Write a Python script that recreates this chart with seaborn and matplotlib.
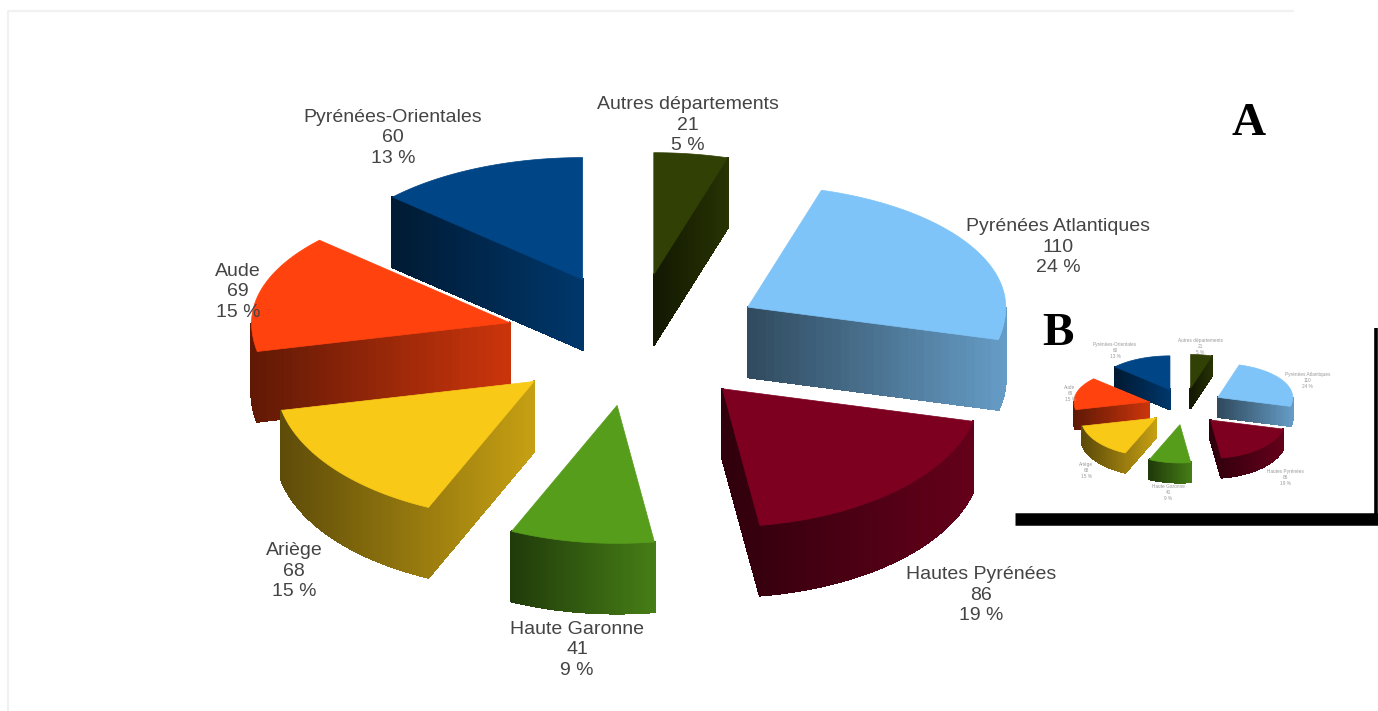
import numpy as np
import seaborn as sns
import matplotlib
matplotlib.use("Agg")
import matplotlib.pyplot as plt
from matplotlib.collections import PolyCollection
from matplotlib.colors import to_rgb

# Donnees du graphique
departements = ["Autres départements", "Pyrénées Atlantiques", "Hautes Pyrénées", "Haute Garonne",
                "Ariège", "Aude", "Pyrénées-Orientales"]
effectifs = [21, 110, 86, 41, 68, 69, 60]
pourcentages = [5, 24, 19, 9, 15, 15, 13]
couleurs = ["#314004", "#7fc4f8", "#7e0021", "#579d1c", "#f9c918", "#ff420e", "#004586"]

# Position du centre des etiquettes (pixels de l'image)
pos_etiquettes = [(688, 125), (1058, 247), (981, 595), (577, 650), (294, 571), (238, 292), (393, 138)]

sns.set_theme(style="white")
plt.rcParams["font.family"] = ["Liberation Sans", "DejaVu Sans"]
palette = sns.color_palette(couleurs)

# Geometrie de la fausse 3D
CX, CY = 635, 340
RX, RY_HAUT, RY_BAS = 258, 122, 138
ECLATE_X, ECLATE_Y = 130, 66
EPAISSEUR = 70


def ellipse(t):
    ry = np.where(np.cos(t) >= 0, RY_HAUT, RY_BAS)
    return RX * np.sin(t), -ry * np.cos(t)


def dessine_part(ax, t0, t1, couleur):
    milieu = (t0 + t1) / 2
    ax0 = CX + ECLATE_X * np.sin(milieu)
    ay0 = CY - ECLATE_Y * np.cos(milieu)
    t = np.linspace(t0, t1, 80)
    ex, ey = ellipse(t)
    px = np.concatenate([[ax0], ax0 + ex])
    py = np.concatenate([[ay0], ay0 + ey])
    xmin, xmax = px.min(), px.max()

    # contour ferme : les cotes qui vont vers la gauche sont visibles
    bx = np.concatenate([px, [ax0]])
    by = np.concatenate([py, [ay0]])
    quads, teintes = [], []
    for i in range(len(bx) - 1):
        if bx[i + 1] >= bx[i]:
            continue
        n = 30 if i in (0, len(bx) - 2) else 1
        xs = np.linspace(bx[i], bx[i + 1], n + 1)
        ys = np.linspace(by[i], by[i + 1], n + 1)
        for j in range(n):
            quads.append([(xs[j], ys[j]), (xs[j + 1], ys[j + 1]),
                          (xs[j + 1], ys[j + 1] + EPAISSEUR), (xs[j], ys[j] + EPAISSEUR)])
            f = ((xs[j] + xs[j + 1]) / 2 - xmin) / (xmax - xmin)
            teintes.append(np.array(to_rgb(couleur)) * (0.38 + 0.42 * f))
    ax.add_collection(PolyCollection(quads, facecolors=teintes, edgecolors=teintes, linewidths=1.0,
                                     antialiaseds=False))
    ax.fill(px, py, color=couleur, lw=0.5)


def dessine_camembert(ax, taille, gris):
    bornes = np.concatenate([[0], np.cumsum(effectifs)]) / sum(effectifs) * 2 * np.pi
    # du fond vers l'avant
    ordre = np.argsort(-np.cos((bornes[:-1] + bornes[1:]) / 2))
    for i in ordre:
        dessine_part(ax, bornes[i], bornes[i + 1], palette[i])
    for nom, n, pc, (x, y) in zip(departements, effectifs, pourcentages, pos_etiquettes):
        ax.text(x, y, f"{nom}\n{n}\n{pc} %", ha="center", va="center", fontsize=taille,
                color=gris, linespacing=1.27)


fig = plt.figure(figsize=(13.78, 7.11), dpi=100, facecolor="white")
ax = fig.add_axes([0, 0, 1, 1])
ax.set_xlim(0, 1378)
ax.set_ylim(711, 0)
ax.axis("off")

# cadre tres clair de la capture
ax.plot([8, 8, 1293], [711, 11, 11], color="#f1f1f1", lw=1.6)

dessine_camembert(ax, 14.0, "#444444")

# petit camembert (B)
x0, x1, y0, y1 = 1030, 1320, 326, 512
ins = fig.add_axes([x0 / 1378, 1 - y1 / 711, (x1 - x0) / 1378, (y1 - y0) / 711])
ins.set_xlim(100, 1100)
ins.set_ylim(720, 50)
ins.axis("off")
dessine_camembert(ins, 3.4, "#9a9a9a")

# lettres et trait noir
ax.text(1249, 124, "A", family="Liberation Serif", fontweight="bold", fontsize=34, color="black",
        ha="center", va="center")
ax.text(1058, 334, "B", family="Liberation Serif", fontweight="bold", fontsize=34, color="black",
        ha="center", va="center", zorder=10)
ax.plot([1376, 1376], [328, 525], color="black", lw=2.6, solid_capstyle="butt")
ax.plot([1015, 1378], [519, 519], color="black", lw=9, solid_capstyle="butt")

fig.savefig("out.png", dpi=100)
